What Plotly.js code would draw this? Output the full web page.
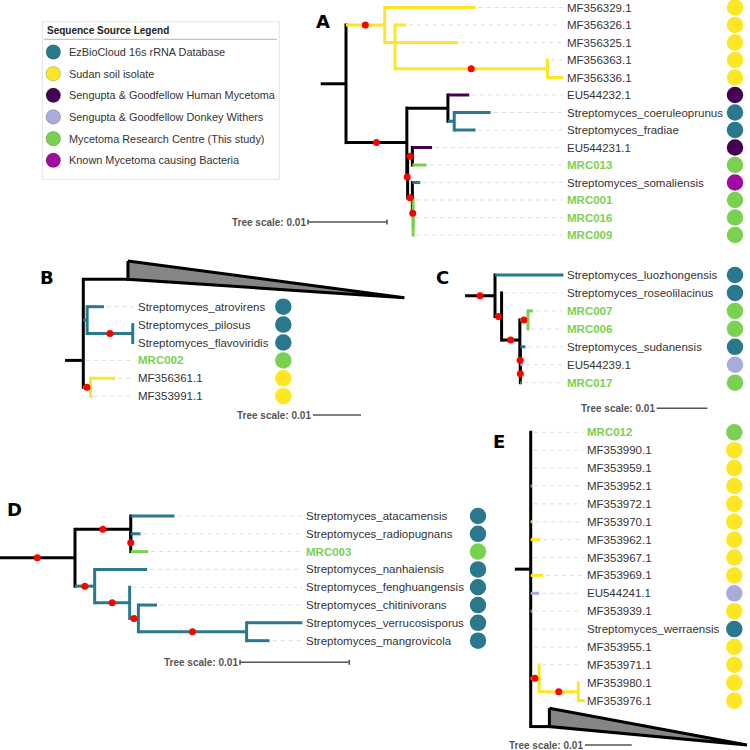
<!DOCTYPE html>
<html><head><meta charset="utf-8">
<script src="https://cdn.plot.ly/plotly-3.0.1.min.js"></script>
<style>html,body{margin:0;padding:0;background:#fff}#chart{width:750px;height:750px}</style>
</head><body><div id="chart"></div>
<script>
// ---------- sources / legend ----------
const SRC_KEYS   = ['ez','soil','human','donkey','mrc','known'];
const SRC_COLORS = ['#2a788e','#fde725','#440154','#a9abdb','#7ad151','#a00aa0'];
const SRC_LABELS = ['EzBioCloud 16s rRNA Database','Sudan soil isolate','Sengupta & Goodfellow Human Mycetoma',
  'Sengupta & Goodfellow Donkey Withers','Mycetoma Research Centre (This study)','Known Mycetoma causing Bacteria'];
const LEGEND_TITLE = 'Sequence Source Legend';
const SCALE_LABEL = 'Tree scale: 0.01';
const SCALE_LEN = 0.01;

// ---------- Panel A ----------
const A_node   = ['root','Y1','MF356329.1','Y2','MF356326.1','MF356325.1','Y3','MF356363.1','MF356336.1',
  'N1','S1','EU544232.1','S2','Streptomyces_coeruleoprunus','Streptomyces_fradiae','N2','N3','EU544231.1','MRC013',
  'N4','Streptomyces_somaliensis','N5','MRC001','N6','MRC016','MRC009'];
const A_parent = ['','root','Y1','Y1','Y2','Y2','Y2','Y3','Y3',
  'root','N1','S1','S1','S2','S2','N1','N2','N3','N3','N2','N4','N4','N5','N5','N6','N6'];
const A_len    = [0.0032,0.0049,0.0115,0.0013,0.0014,0.0080,0.0193,0.0001,0.0020,
  0.0077,0.0052,0.0027,0.0008,0.0046,0.0027,0.0001,0.0006,0.0025,0.0018,0.0006,0.0010,0.0001,0,0,0,0];
const A_sup    = [0,1,0,0,0,0,1,0,0, 1,0,0,0,0,0,1,1,0,0,1,0,1,0,0,0,0];
const A_col    = ['k','soil','soil','soil','soil','soil','soil','soil','soil',
  'k','k','human','ez','ez','ez','k','k','human','mrc','k','ez','mrc','mrc','mrc','mrc','mrc'];
const A_src    = ['soil','soil','soil','soil','soil','human','ez','ez','human','mrc','known','mrc','mrc','mrc'];

// ---------- Panel B ----------
const B_node   = ['root','#cladeB','T1','Streptomyces_atrovirens','T2','Streptomyces_pilosus','Streptomyces_flavoviridis',
  'MRC002','Yb','MF356361.1','MF353991.1'];
const B_parent = ['','root','root','T1','T1','T2','T2','root','root','Yb','Yb'];
const B_len    = [0.0038,0.0093,0.0008,0.0035,0.0095,0,0,0,0.0015,0.0051,0];
const B_sup    = [0,0,0,0,1,0,0,0,1,0,0];
const B_col    = ['k','k','ez','ez','ez','ez','ez','mrc','soil','soil','soil'];
const B_src    = ['ez','ez','ez','mrc','soil','soil'];
const B_collapsed = ['#cladeB'], B_collapsedRow = [-1.53], B_collapsedDepth = [0.0576];

// ---------- Panel C ----------
const C_node   = ['root','Streptomyces_luozhongensis','C1','Streptomyces_roseolilacinus','C2','C3','MRC007','MRC006',
  'C4','Streptomyces_sudanensis','C5','EU544239.1','MRC017'];
const C_parent = ['','root','root','C1','C1','C2','C3','C3','C2','C4','C4','C5','C5'];
const C_len    = [0.0059,0.0135,0.0013,0,0.0036,0.0016,0.0010,0,0.0001,0.0010,0,0.0005,0.0002];
const C_sup    = [1,0,1,0,1,1,0,0,1,0,1,0,0];
const C_col    = ['k','ez','k','ez','k','mrc','mrc','mrc','k','ez','k','donkey','mrc'];
const C_src    = ['ez','ez','mrc','mrc','ez','donkey','mrc'];

// ---------- Panel D ----------
const D_node   = ['root','U1','Streptomyces_atacamensis','U2','Streptomyces_radiopugnans','MRC003',
  'L1','Streptomyces_nanhaiensis','L2','Streptomyces_fenghuangensis','L3','Streptomyces_chitinivorans',
  'L4','Streptomyces_verrucosisporus','Streptomyces_mangrovicola'];
const D_parent = ['','root','U1','U1','U2','U2','root','L1','L1','L2','L2','L3','L3','L4','L4'];
const D_len    = [0.0069,0.0051,0.0040,0,0.0009,0.0016,0.0018,0.0048,0.0032,0,0.0008,0.0017,0.0099,0.0051,0.0021];
const D_sup    = [1,1,0,1,0,0,1,0,1,0,1,0,1,0,0];
const D_col    = ['k','k','ez','k','ez','mrc','ez','ez','ez','ez','ez','ez','ez','ez','ez'];
const D_src    = ['ez','ez','mrc','ez','ez','ez','ez','ez'];

// ---------- Panel E ----------
const E_node   = ['root','MRC012','MF353990.1','MF353959.1','MF353952.1','MF353972.1','MF353970.1','MF353962.1',
  'MF353967.1','MF353969.1','EU544241.1','MF353939.1','Streptomyces_werraensis','MF353955.1',
  'Ey1','MF353971.1','Ey2','MF353980.1','MF353976.1','#cladeE'];
const E_parent = ['','root','root','root','root','root','root','root','root','root','root','root','root','root',
  'root','Ey1','Ey1','Ey2','Ey2','root'];
const E_len    = [0.0034,0,0,0,0.0002,0,0.0003,0.0021,0,0.0027,0.0018,0.0002,0,0,0.0018,0,0.0084,0,0.0014,0.0040];
const E_sup    = [0,0,0,0,0,0,0,0,0,0,0,0,0,0,1,0,1,0,0,0];
const E_col    = ['k','mrc','soil','soil','soil','soil','soil','soil','soil','soil','donkey','soil','ez','soil',
  'soil','soil','soil','soil','soil','k'];
const E_src    = ['mrc','soil','soil','soil','soil','soil','soil','soil','soil','donkey','soil','ez','soil','soil','soil','soil'];
const E_collapsed = ['#cladeE'], E_collapsedRow = [16.45], E_collapsedDepth = [0.0423];
const E_rootRow = 7.65;

// ---------- panel placement (layout only) ----------
const PANELS = [
  {L:'A', node:A_node,parent:A_parent,len:A_len,sup:A_sup,col:A_col,src:A_src,
   ox:346, s:79, oy:7.5, dy:17.5, labelPx:565.7, circlePx:735, barPx:308, barPy:222, ticks:true, letter:[323,21]},
  {L:'B', node:B_node,parent:B_parent,len:B_len,sup:B_sup,col:B_col,src:B_src,
   collapsed:B_collapsed,collapsedRow:B_collapsedRow,collapsedDepth:B_collapsedDepth,
   ox:83.3, s:48, oy:306.7, dy:17.9, labelPx:136.7, circlePx:283.3, barPx:313, barPy:415, ticks:false, letter:[46.7,277]},
  {L:'C', node:C_node,parent:C_parent,len:C_len,sup:C_sup,col:C_col,src:C_src,
   ox:495, s:50.7, oy:275, dy:17.95, labelPx:565.7, circlePx:735, barPx:656.7, barPy:408.3, ticks:false, letter:[442.7,277]},
  {L:'D', node:D_node,parent:D_parent,len:D_len,sup:D_sup,col:D_col,src:D_src,
   ox:75, s:109.3, oy:516, dy:17.81, labelPx:305, circlePx:478, barPx:240, barPy:662.3, ticks:true, letter:[14,509.3]},
  {L:'E', node:E_node,parent:E_parent,len:E_len,sup:E_sup,col:E_col,src:E_src,
   collapsed:E_collapsed,collapsedRow:E_collapsedRow,collapsedDepth:E_collapsedDepth,rootRow:E_rootRow,
   ox:530.7, s:46.7, oy:432.3, dy:17.89, labelPx:585.7, circlePx:734.3, barPx:585, barPy:745, ticks:false, letter:[499,441.7]}
];

const FONT = 'Liberation Sans, Arial, sans-serif';
const W = 750, H = 750;
const colorOf = k => k==='k' ? '#000000' : SRC_COLORS[SRC_KEYS.indexOf(k)];

function layoutTree(P){
  const n=P.node.length, idx={};
  P.node.forEach((nm,i)=>idx[nm]=i);
  const kids=P.node.map(()=>[]); let root=-1;
  P.parent.forEach((p,i)=>{ if(p==='') root=i; else kids[idx[p]].push(i); });
  const x=new Array(n), y=new Array(n), leaves=[]; let row=0;
  const col = P.collapsed || [];
  (function walk(i,px){
    x[i] = i===root ? 0 : px + P.len[i];
    const ci = col.indexOf(P.node[i]);
    if (ci>=0){ y[i]=P.collapsedRow[ci]; return; }
    if (!kids[i].length){ y[i]=row++; leaves.push(i); return; }
    kids[i].forEach(c=>walk(c,x[i]));
    const ys=kids[i].map(c=>y[c]);
    y[i] = ys.length===2 ? (ys[0]+ys[1])/2 : ys[Math.floor(ys.length/2)];
  })(root,0);
  if (P.rootRow!=null) y[root]=P.rootRow;
  return {x,y,kids,root,leaves,idx};
}

const traces=[], annotations=[], layout={
  width:W, height:H, margin:{l:0,r:0,t:0,b:0}, paper_bgcolor:'#ffffff', plot_bgcolor:'rgba(0,0,0,0)',
  showlegend:false, hovermode:false, shapes:[]
};

PANELS.forEach((P,k)=>{
  const xa = k===0 ? 'x' : 'x'+(k+1), ya = k===0 ? 'y' : 'y'+(k+1);
  const xk = k===0 ? 'xaxis' : 'xaxis'+(k+1), yk = k===0 ? 'yaxis' : 'yaxis'+(k+1);
  const u = SCALE_LEN / P.s;            // tree units per pixel
  layout[xk] = {domain:[0,1], range:[(0-P.ox)*u, (W-P.ox)*u], visible:false, fixedrange:true, anchor:ya};
  layout[yk] = {domain:[0,1], range:[(H-P.oy)/P.dy, (0-P.oy)/P.dy], visible:false, fixedrange:true, anchor:xa};
  const T = layoutTree(P);
  const rowPx = 1/P.dy;
  const ext = 1.5*rowPx;
  const segs = {};
  const add=(key,x0,y0,x1,y1)=>{ const s=(segs[key] ||= {x:[],y:[]}); s.x.push(x0,x1,null); s.y.push(y0,y1,null); };
  const dots={x:[],y:[]};
  const tri=[];
  P.node.forEach((nm,i)=>{
    const yi=T.y[i];
    if (i===T.root){
      add(P.col[i], -P.len[i], yi, 0, yi);
      if (P.sup[i]) { dots.x.push(-P.len[i]/2); dots.y.push(yi); }
    } else {
      const px = T.x[T.idx[P.parent[i]]];
      if (P.len[i]>0) add(P.col[i], px, yi, T.x[i], yi);
      if (P.sup[i]) { dots.x.push((px+T.x[i])/2); dots.y.push(yi); }
    }
    if (T.kids[i].length){
      const ys=T.kids[i].map(c=>T.y[c]);
      add(P.col[i], T.x[i], Math.min(...ys)-ext, T.x[i], Math.max(...ys)+ext);
    }
    const ci = (P.collapsed||[]).indexOf(nm);
    if (ci>=0){
      const x0=T.x[i], d=P.collapsedDepth[ci];
      tri.push({x:[x0,x0,x0+d,x0],y:[yi-1.02,yi,yi+1.03,yi-1.02]});
    }
  });
  tri.forEach(t=>traces.push({type:'scatter',mode:'lines',x:t.x,y:t.y,xaxis:xa,yaxis:ya,fill:'toself',
    fillcolor:'#858585',line:{color:'#000',width:3},cliponaxis:false,hoverinfo:'skip'}));
  const order=['k',...SRC_KEYS];
  order.forEach(key=>{ if(segs[key]) traces.push({type:'scatter',mode:'lines',x:segs[key].x,y:segs[key].y,
    xaxis:xa,yaxis:ya,line:{color:colorOf(key),width:3},cliponaxis:false,hoverinfo:'skip'}); });
  // leader lines
  const lx=(P.labelPx-P.ox)*u, lead={x:[],y:[]};
  T.leaves.forEach(i=>{ const x0=T.x[i]+3*u, x1=lx-3*u; if(x1>x0){lead.x.push(x0,x1,null); lead.y.push(T.y[i],T.y[i],null);} });
  traces.push({type:'scatter',mode:'lines',x:lead.x,y:lead.y,xaxis:xa,yaxis:ya,
    line:{color:'#dcdcdc',width:1,dash:'4px,4px'},hoverinfo:'skip'});
  // support dots
  traces.push({type:'scatter',mode:'markers',x:dots.x,y:dots.y,xaxis:xa,yaxis:ya,
    marker:{color:'#ff0000',size:7,line:{width:0}},cliponaxis:false,hoverinfo:'skip'});
  // source circles
  const cx=(P.circlePx-P.ox)*u;
  traces.push({type:'scatter',mode:'markers',x:T.leaves.map(()=>cx),y:T.leaves.map(i=>T.y[i]),xaxis:xa,yaxis:ya,
    marker:{color:P.src.map(colorOf),size:16.5,line:{width:0}},cliponaxis:false,hoverinfo:'skip'});
  // labels
  T.leaves.forEach((i,j)=>{
    const mrc = P.src[j]==='mrc';
    annotations.push({xref:xa,yref:ya,x:lx,y:T.y[i],xanchor:'left',yanchor:'middle',showarrow:false,borderpad:0,
      text: mrc ? '<b>'+P.node[i]+'</b>' : P.node[i],
      font:{family:FONT,size:11.5,color: mrc ? SRC_COLORS[4] : '#333333'}});
  });
  // scale bar
  const bx=(P.barPx-P.ox)*u, by=(P.barPy-P.oy)/P.dy;
  const bar={x:[bx,bx+SCALE_LEN,null],y:[by,by,null]};
  if (P.ticks){ [bx,bx+SCALE_LEN].forEach(t=>{bar.x.push(t,t,null); bar.y.push(by-2.5*rowPx,by+2.5*rowPx,null);}); }
  traces.push({type:'scatter',mode:'lines',x:bar.x,y:bar.y,xaxis:xa,yaxis:ya,line:{color:'#555555',width:1.6},
    cliponaxis:false,hoverinfo:'skip'});
  annotations.push({xref:xa,yref:ya,x:bx-1*u,y:by,xanchor:'right',yanchor:'middle',showarrow:false,borderpad:0,
    text:'<b>'+SCALE_LABEL+'</b>',font:{family:FONT,size:10,color:'#555555'}});
  // panel letter (canvas axis)
  annotations.push({xref:'x6',yref:'y6',x:P.letter[0],y:P.letter[1],xanchor:'center',yanchor:'middle',showarrow:false,
    text:'<b>'+P.L+'</b>',font:{family:'DejaVu Sans, sans-serif',size:18,color:'#000'}});
});

// canvas axis for legend & letters
layout.xaxis6={domain:[0,1],range:[0,W],visible:false,fixedrange:true,anchor:'y6'};
layout.yaxis6={domain:[0,1],range:[H,0],visible:false,fixedrange:true,anchor:'x6'};
layout.shapes.push({type:'rect',xref:'x6',yref:'y6',x0:42.3,x1:279.3,y0:21.7,y1:179.3,
  line:{color:'#e4e4e4',width:1},fillcolor:'#ffffff',layer:'below'});
layout.shapes.push({type:'line',xref:'x6',yref:'y6',x0:44,x1:277,y0:39.3,y1:39.3,line:{color:'#b5b5b5',width:1}});
annotations.push({xref:'x6',yref:'y6',x:46,y:30,xanchor:'left',yanchor:'middle',showarrow:false,borderpad:0,
  text:'<b>'+LEGEND_TITLE+'</b>',font:{family:FONT,size:10,color:'#222'}});
const legY = SRC_KEYS.map((_,i)=>52+i*21.66);
traces.push({type:'scatter',mode:'markers',x:SRC_KEYS.map(()=>53.3),y:legY,xaxis:'x6',yaxis:'y6',
  marker:{color:SRC_COLORS,size:14.5,line:{color:'rgba(0,0,0,0.25)',width:0.8}},cliponaxis:false,hoverinfo:'skip'});
SRC_LABELS.forEach((t,i)=>annotations.push({xref:'x6',yref:'y6',x:68.3,y:legY[i],xanchor:'left',yanchor:'middle',
  showarrow:false,borderpad:0,text:t,font:{family:FONT,size:10.9,color:'#333'}}));

layout.annotations=annotations;
Plotly.newPlot('chart',traces,layout,{staticPlot:true,displayModeBar:false});
</script></body></html>
